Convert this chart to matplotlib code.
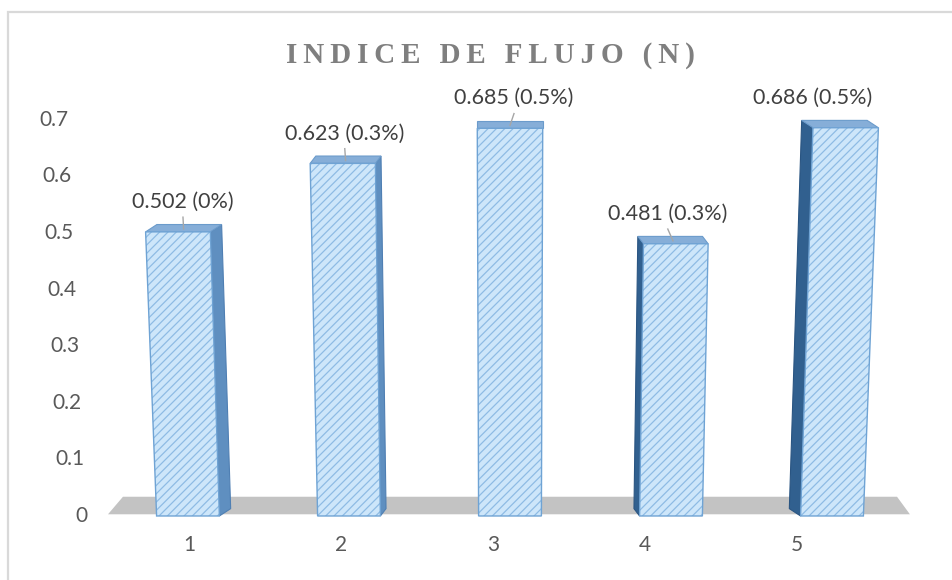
import matplotlib.pyplot as plt
from matplotlib.patches import Polygon, Rectangle

# datos del indice de flujo
categories = ['1', '2', '3', '4', '5']
values = [0.502, 0.623, 0.685, 0.481, 0.686]
pct_labels = ['0%', '0.3%', '0.5%', '0.3%', '0.5%']
y_ticks = [0, 0.1, 0.2, 0.3, 0.4, 0.5, 0.6, 0.7]
y_tick_labels = ['0', '0.1', '0.2', '0.3', '0.4', '0.5', '0.6', '0.7']
title = 'INDICE DE FLUJO (N)'

# perspectiva tipo "columna 3D"
center_x = 3.0    # punto de fuga horizontal
lean = 0.062      # las verticales se abren hacia arriba
half_w = 0.195
depth_dx = 0.035
depth_dy = 0.013

# desplazamiento horizontal de cada etiqueta de datos (px)
label_dx = [5, 2, 4, -8, -33]
leader = [True, True, True, True, False]

plt.rcParams['hatch.linewidth'] = 0.9
text_font = 'Lato'


def lean_x(x, y):
    return center_x + (x - center_x) * (1 + lean * y)


fig = plt.figure(figsize=(9.53, 5.80), dpi=100)
ax = fig.add_axes([0, 0, 1, 1])
ax.set_xlim(-0.1677, 5.7516)
ax.set_ylim(-0.1131, 0.9117)
ax.axis('off')
px = 1 / 161.0  # unidades de datos por pixel en x

# marco del grafico
fig.patches.append(Rectangle((8 / 953, -0.2), 1.2, 1.2 - 12 / 580,
                             transform=fig.transFigure, fill=False,
                             edgecolor='#d9d9d9', linewidth=1.6))

# piso gris
floor = Polygon([(0.503, 0.003), (5.484, 0.003), (5.404, 0.034), (0.596, 0.034)],
                closed=True, facecolor='#c3c3c3', edgecolor='none')
ax.add_patch(floor)

for i, v in enumerate(values):
    xc = i + 1
    x0, x1 = xc - half_w, xc + half_w
    dx = (center_x - xc) * depth_dx

    fbl = (lean_x(x0, 0), 0)
    fbr = (lean_x(x1, 0), 0)
    ftr = (lean_x(x1, v), v)
    ftl = (lean_x(x0, v), v)
    bbl = (fbl[0] + dx, depth_dy)
    bbr = (fbr[0] + dx, depth_dy)
    btr = (ftr[0] + dx, v + depth_dy)
    btl = (ftl[0] + dx, v + depth_dy)

    # cara lateral
    if dx > 0:
        ax.add_patch(Polygon([fbr, ftr, btr, bbr], facecolor='#5f8fc0',
                             edgecolor='#4f7fb3', linewidth=0.8))
    elif dx < 0:
        ax.add_patch(Polygon([fbl, ftl, btl, bbl], facecolor='#31608f',
                             edgecolor='#2a5582', linewidth=0.8))

    # cara superior
    ax.add_patch(Polygon([ftl, ftr, btr, btl], facecolor='#86aed8',
                         edgecolor='#6b9bcb', linewidth=0.8))

    # cara frontal con trama diagonal
    front = [fbl, fbr, ftr, ftl]
    ax.add_patch(Polygon(front, facecolor='#cde6fa', edgecolor='none'))
    ax.add_patch(Polygon(front, facecolor='none', edgecolor='#8ebbe4',
                         hatch='////', linewidth=0))
    ax.add_patch(Polygon(front, facecolor='none', edgecolor='#6fa3d4',
                         linewidth=1.0))

    # etiqueta de datos
    top_x = lean_x(xc, v)
    lx = top_x + label_dx[i] * px
    ly = v + 0.053
    ax.text(lx, ly, f'{v:.3f} ({pct_labels[i]})', ha='center', va='center',
            fontsize=15.5, color='#404040', family=text_font)
    if leader[i]:
        ax.plot([lx, top_x + dx * 0.5], [ly - 0.027, v + depth_dy * 0.4],
                color='#a6a6a6', linewidth=1.0)

# etiquetas del eje y (siguen la inclinacion de la perspectiva)
for t, lab in zip(y_ticks, y_tick_labels):
    ax.text(lean_x(0.373, t), t, lab, ha='right', va='center',
            fontsize=15, color='#595959', family=text_font)

# etiquetas del eje x
for i, lab in enumerate(categories):
    ax.text(1.006 + 0.944 * i, -0.051, lab, ha='center', va='center',
            fontsize=15, color='#595959', family=text_font)

# titulo con espaciado entre letras
spaced_title = '\u2009'.join(title)
ax.text(2.876, 0.813, spaced_title, ha='center', va='center', fontsize=21,
        fontweight='bold', color='#7f7f7f',
        family=['Liberation Serif', 'DejaVu Serif'])

fig.savefig('out.png', dpi=100)
